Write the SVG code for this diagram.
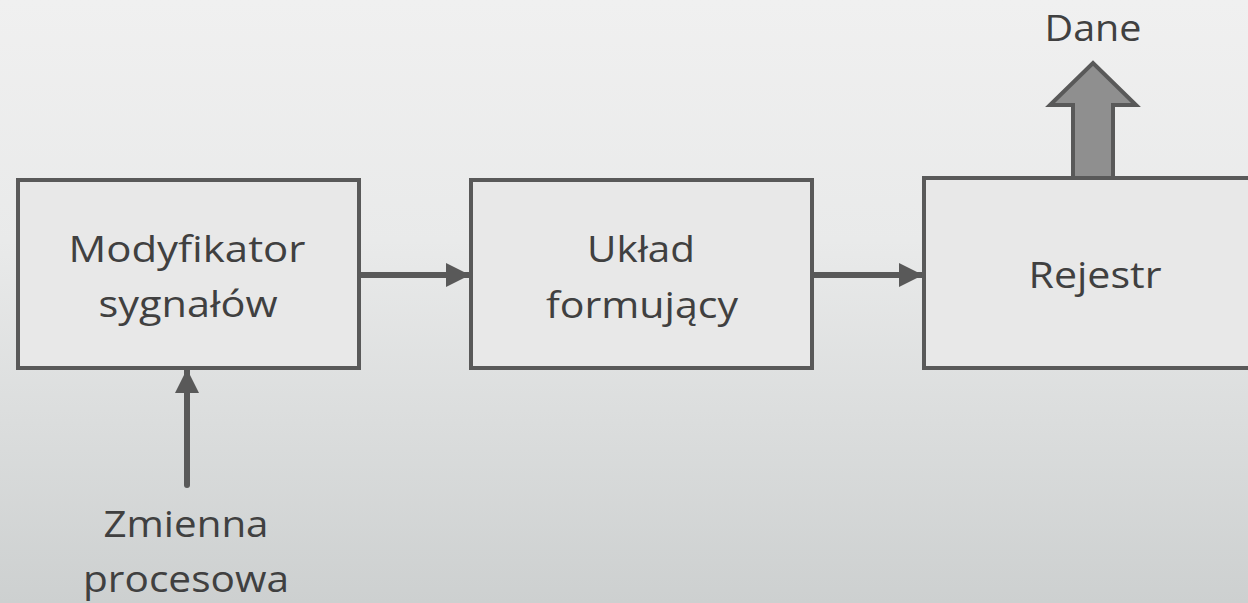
<svg xmlns="http://www.w3.org/2000/svg" width="1248" height="603" viewBox="0 0 1248 603">
  <defs>
    <linearGradient id="bg" x1="0" y1="0" x2="0" y2="1">
      <stop offset="0" stop-color="#f0f0f0"/>
      <stop offset="0.4" stop-color="#e9eaea"/>
      <stop offset="1" stop-color="#cdd0d0"/>
    </linearGradient>
    <marker id="ah" markerUnits="userSpaceOnUse" markerWidth="24" markerHeight="24" refX="23" refY="12" orient="auto">
      <path d="M0,0 L24,12 L0,24 Z" fill="#595959"/>
    </marker>
    <style>
      .box { fill: #e8e8e8; stroke: #595959; stroke-width: 4; }
      .lbl { font-family: "Open Sans", "Noto Sans", "DejaVu Sans", sans-serif; font-size: 37px; fill: #404040; text-anchor: middle; }
      .conn { stroke: #595959; stroke-width: 6; fill: none; }
    </style>
  </defs>
  <rect width="1248" height="603" fill="url(#bg)"/>
  <g id="connectors">
    <line class="conn" x1="359" y1="275" x2="469" y2="275" marker-end="url(#ah)"/>
    <line class="conn" x1="813" y1="275" x2="922" y2="275" marker-end="url(#ah)"/>
    <line class="conn" x1="187" y1="485" x2="187" y2="370" stroke-linecap="round" marker-end="url(#ah)"/>
    <path id="dane-arrow" d="M1073,178 L1073,105 L1050,105 L1093,63 L1136,105 L1113,105 L1113,178" fill="#8f8f8f" stroke="#595959" stroke-width="4" stroke-linejoin="miter"/>
  </g>
  <g id="node-modyfikator">
    <rect class="box" x="18" y="180" width="341" height="188"/>
    <text class="lbl" x="187" y="262" textLength="237" lengthAdjust="spacingAndGlyphs">Modyfikator</text>
    <text class="lbl" x="188" y="317" textLength="179" lengthAdjust="spacingAndGlyphs">sygnałów</text>
  </g>
  <g id="node-uklad">
    <rect class="box" x="471" y="180" width="341" height="188"/>
    <text class="lbl" x="641" y="262" textLength="108" lengthAdjust="spacingAndGlyphs">Układ</text>
    <text class="lbl" x="642" y="318" textLength="192" lengthAdjust="spacingAndGlyphs">formujący</text>
  </g>
  <g id="node-rejestr">
    <rect class="box" x="924" y="178" width="340" height="190"/>
    <text class="lbl" x="1095" y="288" textLength="133" lengthAdjust="spacingAndGlyphs">Rejestr</text>
  </g>
  <g id="label-dane">
    <text class="lbl" x="1093" y="41" textLength="97" lengthAdjust="spacingAndGlyphs">Dane</text>
  </g>
  <g id="label-zmienna">
    <text class="lbl" x="186" y="537" textLength="165" lengthAdjust="spacingAndGlyphs">Zmienna</text>
    <text class="lbl" x="186" y="592" textLength="206" lengthAdjust="spacingAndGlyphs">procesowa</text>
  </g>
</svg>
